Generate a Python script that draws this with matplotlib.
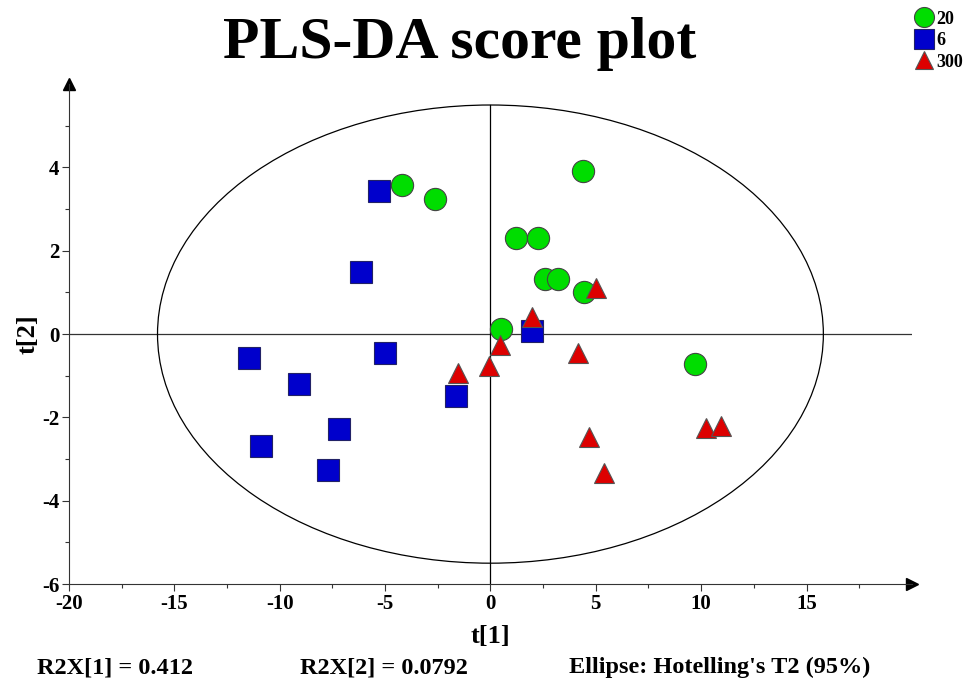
import matplotlib
matplotlib.use("Agg")
import matplotlib.pyplot as plt
import numpy as np
from matplotlib.patches import Ellipse

# scores
g20_t1 = [-4.18, -2.61, 4.37, 1.19, 2.28, 2.61, 3.23, 4.42, 0.48, 9.69]
g20_t2 = [3.57, 3.24, 3.91, 2.30, 2.30, 1.32, 1.32, 1.01, 0.12, -0.72]

g6_t1 = [-5.31, -6.13, -11.45, -9.07, -5.02, -1.62, -10.88, -7.21, -7.71, 1.95]
g6_t2 = [3.43, 1.50, -0.57, -1.21, -0.45, -1.48, -2.68, -2.29, -3.26, 0.07]

g300_t1 = [4.99, 1.98, 0.44, -0.08, 4.17, 4.67, 5.38, 10.25, 10.96, -1.53]
g300_t2 = [1.10, 0.41, -0.26, -0.77, -0.46, -2.48, -3.34, -2.26, -2.20, -0.93]

ellipse_a = 15.8   # half width, t[1]
ellipse_b = 5.5    # half height, t[2]

r2x_1 = 0.412
r2x_2 = 0.0792

plt.rcParams["font.family"] = ["Liberation Serif", "DejaVu Serif"]
plt.rcParams["font.weight"] = "bold"
plt.rcParams["axes.unicode_minus"] = False

fig = plt.figure(figsize=(9.68, 6.9), dpi=100)
ax = fig.add_axes([0.0713, 0.1536, 0.8707, 0.7244])
ax.set_xlim(-20, 20)
ax.set_ylim(-6, 6)

# axis lines with arrows
for side in ["top", "right"]:
    ax.spines[side].set_visible(False)
ax.spines["left"].set_color("#333333")
ax.spines["bottom"].set_color("#333333")
ax.plot(1, -6, ">", color="black", markersize=9, transform=ax.get_yaxis_transform(),
        clip_on=False)
ax.plot(-20, 1, "^", color="black", markersize=9, transform=ax.get_xaxis_transform(),
        clip_on=False)

ax.axhline(0, color="#333333", lw=0.9, zorder=1)
ax.plot([0, 0], [-6, ellipse_b], color="black", lw=0.9, zorder=1)

ax.add_patch(Ellipse((0, 0), 2 * ellipse_a, 2 * ellipse_b, fill=False,
                     edgecolor="black", lw=0.9, zorder=1))

ax.set_xticks([-20, -15, -10, -5, 0, 5, 10, 15])
ax.set_xticks(np.arange(-17.5, 20, 5), minor=True)
ax.set_yticks([-6, -4, -2, 0, 2, 4])
ax.set_yticks([-5, -3, -1, 1, 3, 5], minor=True)
ax.tick_params(axis="both", which="major", length=5, width=0.8, color="#333333",
               labelsize=15, pad=2)
ax.tick_params(axis="both", which="minor", length=3, width=0.8, color="#333333")

ax.plot(g20_t1, g20_t2, "o", ms=16, mfc="#00dd00", mec="#444444", mew=0.8,
        ls="none", label="20", zorder=3)
ax.plot(g6_t1, g6_t2, "s", ms=16, mfc="#0000cc", mec="#222266", mew=0.8,
        ls="none", label="6", zorder=3)
ax.plot(g300_t1, g300_t2, "^", ms=15, mfc="#dd0000", mec="#555555", mew=0.8,
        ls="none", label="300", zorder=4)

ax.set_xlabel("t[1]", fontsize=19, fontweight="bold", labelpad=8)
ax.set_ylabel("t[2]", fontsize=19, fontweight="bold", labelpad=2)

fig.text(0.475, 0.936, "PLS-DA score plot", ha="center", va="center",
         fontsize=43, fontweight="bold")

leg = fig.legend(loc="upper right", bbox_to_anchor=(1.008, 1.003), frameon=False,
                 fontsize=13, handletextpad=0.15, labelspacing=0.25,
                 markerscale=0.9, handlelength=1.1, borderpad=0.2)

fig.text(0.038, 0.024, f"R2X[1] = {r2x_1}", fontsize=17.5, fontweight="bold")
fig.text(0.31, 0.024, f"R2X[2] = {r2x_2}", fontsize=17.5, fontweight="bold")
fig.text(0.588, 0.024, "Ellipse: Hotelling's T2 (95%)", fontsize=17.5, fontweight="bold")

fig.savefig("out.png", dpi=100)
